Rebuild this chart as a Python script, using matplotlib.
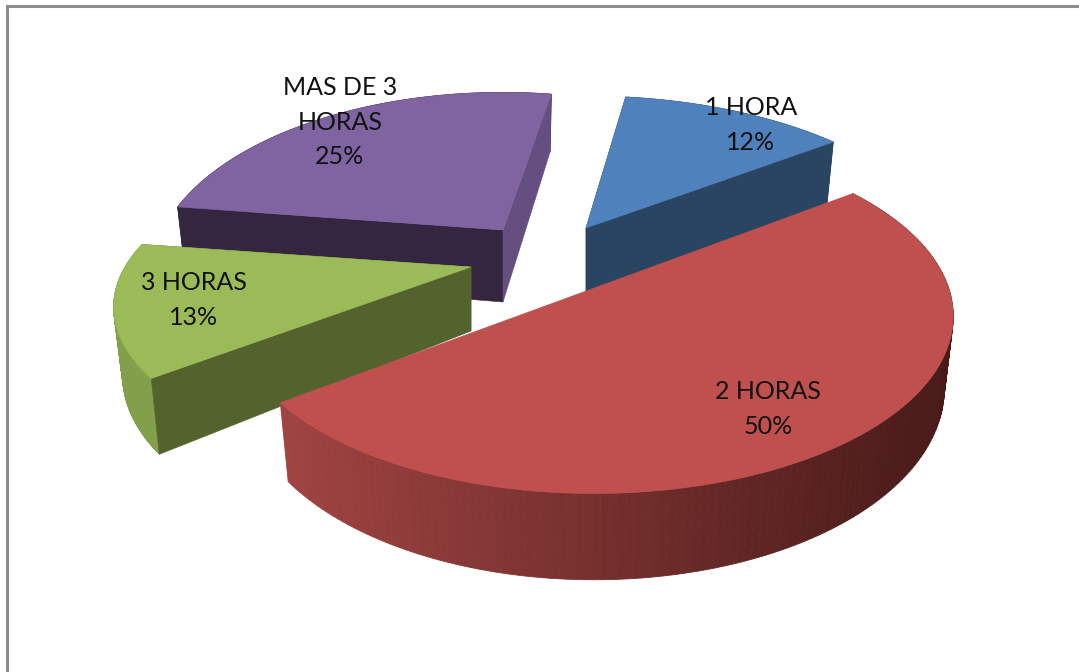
import numpy as np
import matplotlib
matplotlib.use('Agg')
import matplotlib.pyplot as plt
from matplotlib.colors import to_rgb

labels = ['1 HORA', '2 HORAS', '3 HORAS', 'MAS DE 3\nHORAS']
values = [12, 50, 13, 25]
pct_labels = ['12%', '50%', '13%', '25%']

# layout of each slice, in pixels: tip, radii, thickness
tips = [(586, 228), (594, 281), (471, 267), (503, 230)]
radii = [(355, 165), (352, 170), (346, 150), (340, 172)]
depths = [70, 69, 64, 72]
persp = [0.25, 0.2, 0.25, 0.25]
# small angle corrections, the perspective of the original bends the cuts a bit
start_fix = [0, 3.8, 0, 0]
end_fix = [2, 0, 1.0, 2.2]
text_pos = [(751, 125), (768, 409), (194, 300), (340, 122)]

top_cols = ['#4f81bd', '#c0504d', '#9bbb59', '#8064a2']
front_cols = ['#2a4561', '#c0504d', '#54632e', '#35263f']
back_cols = ['#2a4561', '#c0504d', '#54632e', '#654f80']
rim_cols = ['#2a4561', ('#a04442', '#471a18'), '#82a04b', '#35263f']

ROT = 8.0
draw_order = [3, 0, 2, 1]


def project(i, t, r=1.0, z=0.0):
    t = np.radians(t)
    x, y = r * np.sin(t), r * np.cos(t)
    d = 1 + persp[i] * y
    u = tips[i][0] + radii[i][0] * x / d * (1 - 0.025 * z)
    v = tips[i][1] - radii[i][1] * y / d + depths[i] * z / d
    return u, v


starts = ROT + 3.6 * np.concatenate([[0], np.cumsum(values)[:-1]]) + start_fix
ends = ROT + 3.6 * np.cumsum(values) + end_fix

fig = plt.figure(figsize=(10.79, 6.72), dpi=100)
ax = fig.add_axes([0, 0, 1, 1])
ax.set_xlim(0, 1079)
ax.set_ylim(672, 0)
ax.axis('off')

# chart frame
ax.plot([7, 7, 1079], [672, 6, 6], color='#8c8c8c', lw=2.2, solid_joinstyle='miter')

for i in draw_order:
    ts = np.linspace(starts[i], ends[i], 160)
    top_u, top_v = project(i, ts)
    bot_u, bot_v = project(i, ts, z=1.0)

    # outer edge, cut in strips so the shading can run left to right
    rim = rim_cols[i]
    for k in range(len(ts) - 1):
        if isinstance(rim, tuple):
            f = (top_u[k] - top_u.min()) / (top_u.max() - top_u.min())
            col = (1 - f) * np.array(to_rgb(rim[0])) + f * np.array(to_rgb(rim[1]))
        else:
            col = rim
        ax.fill([top_u[k], top_u[k + 1], bot_u[k + 1], bot_u[k]],
                [top_v[k], top_v[k + 1], bot_v[k + 1], bot_v[k]],
                color=col, lw=0.6)

    # the two cut faces
    for t, col in [(starts[i], front_cols[i]), (ends[i], back_cols[i])]:
        if i == 1:
            continue  # red ones are hidden under its top
        rim_u, rim_v = project(i, t)
        low_u, low_v = project(i, t, z=1.0)
        tip_u, tip_v = project(i, t, r=0.0)
        low_tu, low_tv = project(i, t, r=0.0, z=1.0)
        ax.fill([tip_u, rim_u, low_u, low_tu], [tip_v, rim_v, low_v, low_tv], color=col, lw=0.4)

    # top of the slice, red is closed by its straight chord
    if i == 1:
        ax.fill(top_u, top_v, color=top_cols[i], lw=0.4)
    else:
        tip_u, tip_v = project(i, 0, r=0.0)
        ax.fill(np.r_[tip_u, top_u], np.r_[tip_v, top_v], color=top_cols[i], lw=0.4)

for i in range(len(values)):
    ax.text(text_pos[i][0], text_pos[i][1], labels[i] + '\n' + pct_labels[i],
            ha='center', va='center', multialignment='center', linespacing=1.6,
            fontsize=18, family='Lato', color='#111111')

fig.savefig('out.png', dpi=100, facecolor='white')
